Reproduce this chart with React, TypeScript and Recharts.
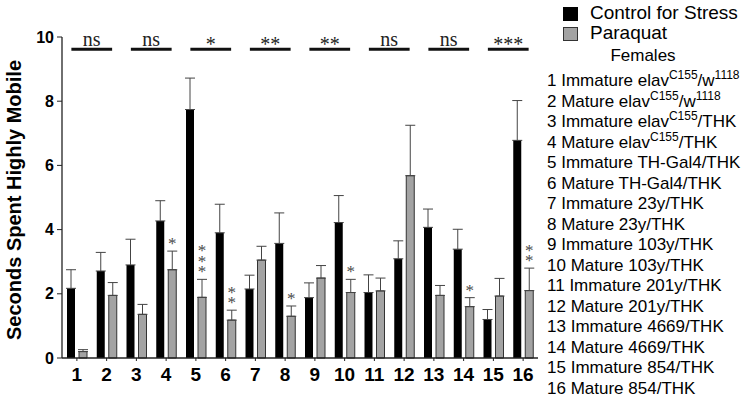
import React from 'react'
import { BarChart, Bar, XAxis, YAxis, ErrorBar, LabelList, ReferenceLine } from 'recharts'

// group numbers along the x axis
const GROUPS = ['1', '2', '3', '4', '5', '6', '7', '8', '9', '10', '11', '12', '13', '14', '15', '16']

// means and upper error (SEM)
const CONTROL = [2.17, 2.71, 2.9, 4.27, 7.74, 3.9, 2.15, 3.57, 1.88, 4.22, 2.04, 3.09, 4.07, 3.39, 1.2, 6.78]
const CONTROL_ERR = [0.58, 0.58, 0.8, 0.63, 0.98, 0.89, 0.43, 0.95, 0.46, 0.84, 0.55, 0.56, 0.57, 0.62, 0.31, 1.24]
const PARAQUAT = [0.2, 1.95, 1.36, 2.75, 1.89, 1.18, 3.05, 1.3, 2.49, 2.04, 2.09, 5.68, 1.95, 1.6, 1.93, 2.1]
const PARAQUAT_ERR = [0.06, 0.4, 0.31, 0.58, 0.56, 0.31, 0.43, 0.32, 0.39, 0.41, 0.4, 1.57, 0.31, 0.28, 0.55, 0.7]
const PARAQUAT_STARS = [0, 0, 0, 1, 3, 2, 0, 1, 0, 1, 0, 0, 0, 1, 0, 2]

// immature vs mature comparisons (pairs 1-2, 3-4, ...)
const SIG_PAIRS: [string, string][] = [['1', '2'], ['3', '4'], ['5', '6'], ['7', '8'], ['9', '10'], ['11', '12'], ['13', '14'], ['15', '16']]
const SIG_LABELS = ['ns', 'ns', '*', '**', '**', 'ns', 'ns', '***']
const SIG_Y = 9.62

const Y_TICKS = [0, 2, 4, 6, 8, 10]

// ^...^ marks superscript
const GROUP_NAMES = [
  'Immature elav^C155^/w^1118^',
  'Mature elav^C155^/w^1118^',
  'Immature elav^C155^/THK',
  'Mature elav^C155^/THK',
  'Immature TH-Gal4/THK',
  'Mature TH-Gal4/THK',
  'Immature 23y/THK',
  'Mature 23y/THK',
  'Immature 103y/THK',
  'Mature 103y/THK',
  'Immature 201y/THK',
  'Mature 201y/THK',
  'Immature 4669/THK',
  'Mature 4669/THK',
  'Immature 854/THK',
  'Mature 854/THK',
]

const data = GROUPS.map((g, i) => ({
  group: g,
  control: CONTROL[i],
  controlErr: [0, CONTROL_ERR[i]],
  paraquat: PARAQUAT[i],
  paraquatErr: [0, PARAQUAT_ERR[i]],
}))

const SANS = '"Liberation Sans", Arial, sans-serif'
const SERIF = '"Liberation Serif", "Times New Roman", serif'
const GRAY = '#a3a3a3'

function SigMark(props: any) {
  const { x1, x2, y1, text } = props
  const isStars = text.indexOf('*') >= 0
  return (
    <g>
      <line x1={x1 - 5.5} x2={x2 + 5.5} y1={y1} y2={y1} stroke="#111" strokeWidth={3} />
      <text
        x={(x1 + x2) / 2}
        y={isStars ? y1 + 2 : y1 - 3.5}
        textAnchor="middle"
        fontFamily={SERIF}
        fontSize={20}
        fill="#222"
      >
        {text}
      </text>
    </g>
  )
}

// vertical stack of asterisks above a paraquat bar's error cap
function StarStack(props: any) {
  const { x, y, width, height, value, index } = props
  const n = PARAQUAT_STARS[index] || 0
  if (!n || !value) return null
  const pxPerUnit = height / value
  const errTop = y - PARAQUAT_ERR[index] * pxPerUnit
  const cx = x + width / 2
  const spans = []
  for (let k = 0; k < n; k++) {
    spans.push(
      <tspan key={k} x={cx} dy={k === 0 ? 0 : -10.5}>*</tspan>
    )
  }
  return (
    <text x={cx} y={errTop - 2} textAnchor="middle" fontFamily={SERIF} fontSize={17} fill="#4a4a4a">
      {spans}
    </text>
  )
}

function YTitle() {
  return (
    <text
      x={14}
      y={200}
      transform="rotate(-90 14 200)"
      textAnchor="middle"
      dominantBaseline="central"
      fontFamily={SANS}
      fontWeight="bold"
      fontSize={20}
      fill="#000"
    >
      Seconds Spent Highly Mobile
    </text>
  )
}

function renderName(s: string) {
  return s.split('^').map((part, i) =>
    i % 2 === 1 ? (
      <span key={i} style={{ fontSize: 12, position: 'relative', top: -7 }}>{part}</span>
    ) : (
      <span key={i}>{part}</span>
    )
  )
}

export default function App() {
  return (
    <div style={{ position: 'absolute', left: 0, top: 0, width: 751, height: 401, background: '#fff', overflow: 'hidden' }}>
      <BarChart
        width={545}
        height={401}
        data={data}
        margin={{ top: 37, right: 7, bottom: 0, left: 0 }}
        barSize={8}
        barGap={4}
      >
        <XAxis
          dataKey="group"
          height={43}
          tickSize={3}
          tickMargin={7}
          axisLine={{ stroke: '#222', strokeWidth: 1.3 }}
          tickLine={{ stroke: '#222' }}
          tick={{ fontFamily: SANS, fontWeight: 'bold', fontSize: 19, fill: '#000' }}
          interval={0}
        />
        <YAxis
          width={62}
          domain={[0, 10]}
          ticks={Y_TICKS}
          tickSize={5}
          tickMargin={3}
          axisLine={{ stroke: '#222', strokeWidth: 1.3 }}
          tickLine={{ stroke: '#222' }}
          tick={{ fontFamily: SANS, fontWeight: 'bold', fontSize: 16, fill: '#000' }}
          label={<YTitle />}
        />
        <Bar dataKey="control" fill="#000" isAnimationActive={false}>
          <ErrorBar dataKey="controlErr" width={5} stroke="#444" strokeWidth={1} direction="y" isAnimationActive={false} />
        </Bar>
        <Bar dataKey="paraquat" fill={GRAY} stroke="#333" strokeWidth={1} isAnimationActive={false}>
          <ErrorBar dataKey="paraquatErr" width={5} stroke="#444" strokeWidth={1} direction="y" isAnimationActive={false} />
          <LabelList dataKey="paraquat" content={<StarStack />} />
        </Bar>
        {SIG_PAIRS.map((p, i) => (
          <ReferenceLine
            key={i}
            segment={[{ x: p[0], y: SIG_Y }, { x: p[1], y: SIG_Y }]}
            ifOverflow="visible"
            shape={(sp: any) => <SigMark {...sp} text={SIG_LABELS[i]} />}
          />
        ))}
      </BarChart>

      <div style={{ position: 'absolute', left: 563, top: 7, width: 15, height: 14, background: '#000' }} />
      <div style={{ position: 'absolute', left: 563, top: 27, width: 13, height: 12, background: GRAY, border: '1px solid #333' }} />
      <div style={{ position: 'absolute', left: 590, top: 2, fontFamily: SANS, fontSize: 19, lineHeight: '22px', color: '#000', whiteSpace: 'nowrap' }}>
        Control for Stress
      </div>
      <div style={{ position: 'absolute', left: 590, top: 22, fontFamily: SANS, fontSize: 19, lineHeight: '22px', color: '#000', whiteSpace: 'nowrap' }}>
        Paraquat
      </div>
      <div style={{ position: 'absolute', left: 593, width: 100, top: 46, textAlign: 'center', fontFamily: SANS, fontSize: 17, lineHeight: '20px', color: '#000' }}>
        Females
      </div>
      {GROUP_NAMES.map((name, i) => (
        <div
          key={i}
          style={{
            position: 'absolute',
            left: 547,
            top: 72 + i * 20.5,
            fontFamily: SANS,
            fontSize: 17,
            lineHeight: '18px',
            color: '#000',
            whiteSpace: 'nowrap',
          }}
        >
          {GROUPS[i]} {renderName(name)}
        </div>
      ))}
    </div>
  )
}
